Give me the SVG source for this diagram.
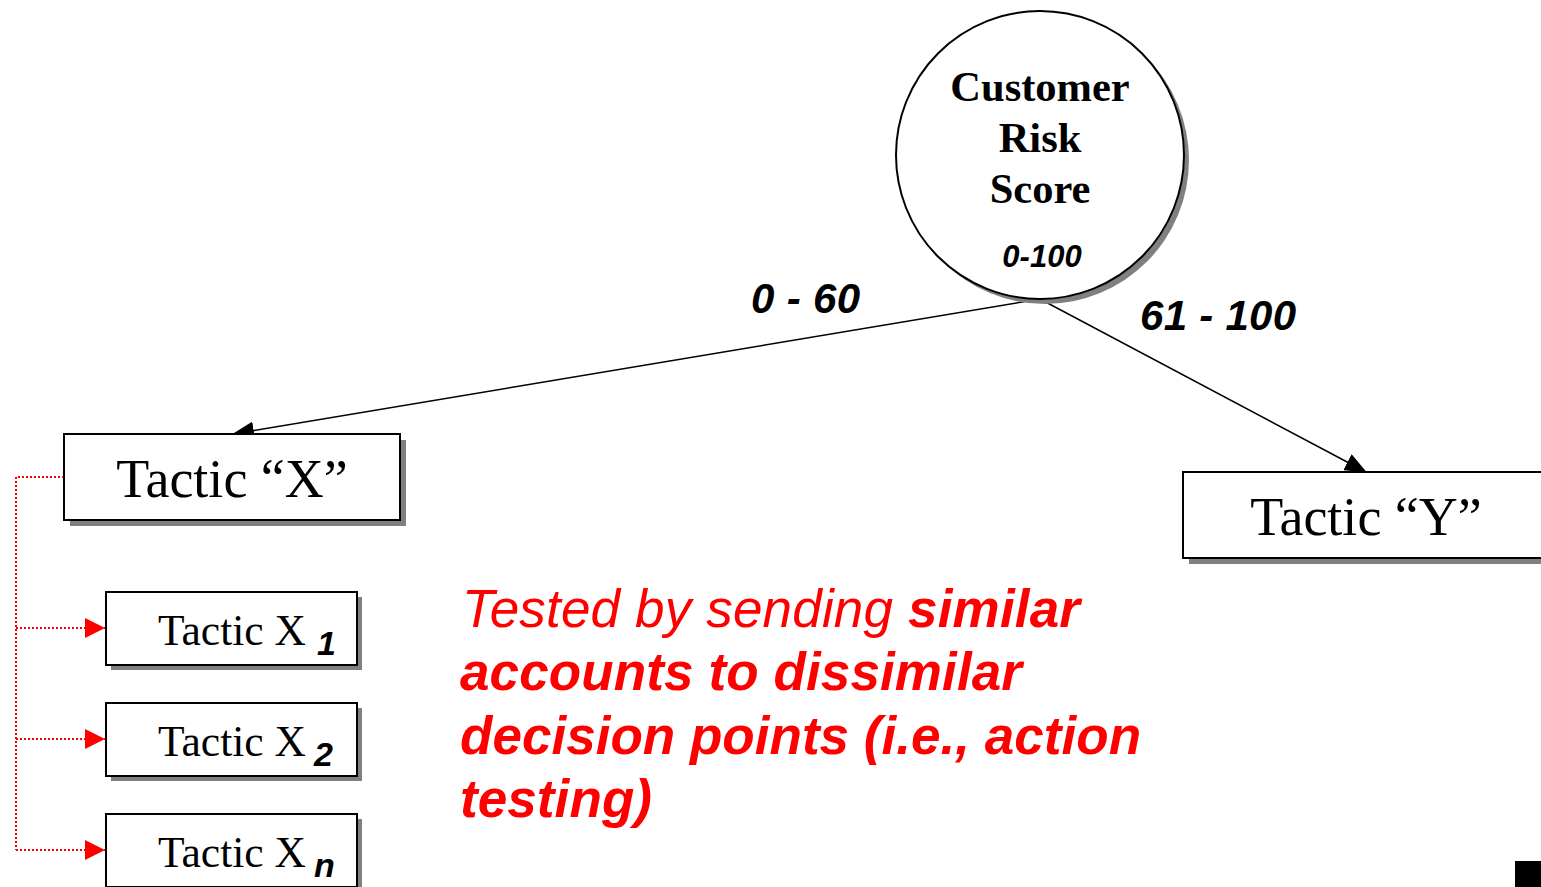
<svg xmlns="http://www.w3.org/2000/svg" width="1541" height="887" viewBox="0 0 1541 887">
<style>
.box{fill:#fff;stroke:#000;stroke-width:2}
.shadow{fill:#808080}
.tnr{font-family:"Liberation Serif",serif}
.ari{font-family:"Liberation Sans",Arial,sans-serif}
.conn{stroke:#000;stroke-width:1.5;fill:none}
.red{stroke:#ff0000;stroke-width:2;stroke-dasharray:2 2;fill:none}
</style>
<defs>
<marker id="ah" markerWidth="22" markerHeight="18" refX="21" refY="9" orient="auto" markerUnits="userSpaceOnUse" viewBox="0 0 22 18"><path d="M0,0 L22,9 L0,18 z" fill="#000"/></marker>
<marker id="rh" markerWidth="20" markerHeight="20" refX="20" refY="10" orient="auto" markerUnits="userSpaceOnUse" viewBox="0 0 20 20"><path d="M0,0 L20,10 L0,20 z" fill="#ff0000"/></marker>
</defs>
<rect width="1541" height="887" fill="#fff"/>
<g id="connectors">
<line class="conn" x1="1040" y1="299" x2="233" y2="434" marker-end="url(#ah)"/>
<line class="conn" x1="1040" y1="299" x2="1366" y2="472" marker-end="url(#ah)"/>
<polyline class="red" points="64,477 16,477 16,850"/>
<line class="red" x1="16" y1="628" x2="105" y2="628" marker-end="url(#rh)"/>
<line class="red" x1="16" y1="739" x2="105" y2="739" marker-end="url(#rh)"/>
<line class="red" x1="16" y1="850" x2="105" y2="850" marker-end="url(#rh)"/>
<text class="ari" x="751" y="313" font-size="42" font-weight="bold" font-style="italic" textLength="109">0 - 60</text>
<text class="ari" x="1140" y="330" font-size="42" font-weight="bold" font-style="italic" textLength="156">61 - 100</text>
</g>
<g id="node-score">
<circle cx="1045" cy="160" r="144" class="shadow"/>
<circle cx="1040" cy="155" r="144" fill="#fff" stroke="#000" stroke-width="2"/>
<text class="tnr" x="1040" font-size="42.5" font-weight="bold" text-anchor="middle"><tspan x="1040" y="101">Customer</tspan><tspan x="1040" y="152">Risk</tspan><tspan x="1040" y="203">Score</tspan></text>
<text class="ari" x="1042" y="267" font-size="31" font-weight="bold" font-style="italic" text-anchor="middle">0-100</text>
</g>
<g id="node-x">
<rect x="70" y="440" width="336" height="86" class="shadow"/>
<rect x="64" y="434" width="336" height="86" class="box"/>
<text class="tnr" x="232" y="497" font-size="54" text-anchor="middle">Tactic “X”</text>
</g>
<g id="node-y">
<rect x="1189" y="478" width="360" height="86" class="shadow"/>
<rect x="1183" y="472" width="370" height="86" class="box"/>
<text class="tnr" x="1366" y="535" font-size="54" text-anchor="middle">Tactic “Y”</text>
</g>
<g id="node-x1">
<rect x="111" y="597" width="251" height="73" class="shadow"/>
<rect x="106" y="592" width="251" height="73" class="box"/>
<text class="tnr" x="158" y="645" font-size="43.5">Tactic X</text>
<text class="ari" x="317" y="655" font-size="34" font-weight="bold" font-style="italic">1</text>
</g>
<g id="node-x2">
<rect x="111" y="708" width="251" height="73" class="shadow"/>
<rect x="106" y="703" width="251" height="73" class="box"/>
<text class="tnr" x="158" y="756" font-size="43.5">Tactic X</text>
<text class="ari" x="314" y="766" font-size="34" font-weight="bold" font-style="italic">2</text>
</g>
<g id="node-xn">
<rect x="111" y="819" width="251" height="73" class="shadow"/>
<rect x="106" y="814" width="251" height="73" class="box"/>
<text class="tnr" x="158" y="867" font-size="43.5">Tactic X</text>
<text class="ari" x="314" y="877" font-size="34" font-weight="bold" font-style="italic">n</text>
</g>
<g id="note" class="ari" font-size="53" font-style="italic" fill="#ff0000">
<text x="462" y="627" textLength="618">Tested by sending <tspan font-weight="bold">similar</tspan></text>
<text x="460" y="690" font-weight="bold" textLength="562">accounts to dissimilar</text>
<text x="460" y="754" font-weight="bold" textLength="681">decision points (i.e., action</text>
<text x="460" y="817" font-weight="bold" textLength="192">testing)</text>
</g>
<rect x="1515" y="861" width="26" height="26" fill="#000"/>
</svg>
